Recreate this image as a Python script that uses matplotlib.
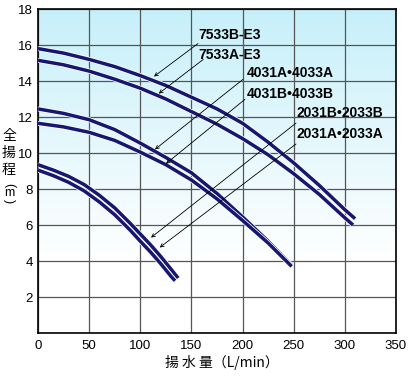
import numpy as np
import matplotlib.pyplot as plt
import matplotlib.patheffects as pe

# 揚水量 (L/min) と 全揚程 (m) の読み取り値
q_7533b = [0, 25, 50, 75, 100, 125, 150, 175, 200, 225, 250, 275, 300, 310]
h_7533b = [15.8, 15.55, 15.2, 14.8, 14.3, 13.75, 13.1, 12.45, 11.65, 10.6, 9.45, 8.2, 6.85, 6.35]
q_7533a = [0, 25, 50, 75, 100, 125, 150, 175, 200, 225, 250, 275, 300, 308]
h_7533a = [15.15, 14.9, 14.55, 14.1, 13.6, 13.0, 12.3, 11.6, 10.8, 9.9, 8.85, 7.7, 6.4, 6.0]

q_4031a = [0, 25, 50, 75, 100, 125, 150, 175, 200, 225, 248]
h_4031a = [12.45, 12.2, 11.85, 11.3, 10.55, 9.75, 8.9, 7.75, 6.45, 5.1, 3.75]
q_4031b = [0, 25, 50, 75, 100, 125, 150, 175, 200, 225, 248]
h_4031b = [11.65, 11.45, 11.15, 10.7, 10.05, 9.35, 8.5, 7.45, 6.25, 5.0, 3.7]

q_2031b = [0, 15, 30, 45, 60, 75, 90, 100, 110, 120, 130, 137]
h_2031b = [9.35, 9.05, 8.7, 8.25, 7.65, 6.95, 6.1, 5.5, 4.9, 4.25, 3.55, 3.05]
q_2031a = [0, 15, 30, 45, 60, 75, 90, 100, 110, 120, 130, 134]
h_2031a = [9.05, 8.74, 8.37, 7.9, 7.28, 6.57, 5.72, 5.1, 4.5, 3.85, 3.15, 2.9]

curves = [(q_7533b, h_7533b), (q_7533a, h_7533a),
          (q_4031a, h_4031a), (q_4031b, h_4031b),
          (q_2031b, h_2031b), (q_2031a, h_2031a)]

labels = ['7533B-E3', '7533A-E3', '4031A•4033A', '4031B•4033B',
          '2031B•2033B', '2031A•2033A']
# 引き出し線の先 (曲線上の点)
arrow_x = [113.4, 118, 114.4, 125, 110.5, 119]
arrow_y = [14.25, 13.3, 10.2, 9.4, 5.3, 4.75]

x_ticks = [0, 50, 100, 150, 200, 250, 300, 350]
y_ticks = [2, 4, 6, 8, 10, 12, 14, 16, 18]

# ラベル位置と引き出し線の始点
text_pos = [(156.4, 16.57), (156.4, 15.47), (204.3, 14.42), (204.3, 13.26),
            (253.2, 12.21), (253.2, 11.05)]
line_start = [(156.4, 16.08), (161.6, 15.2), (200.4, 14.09), (202.3, 12.98),
              (252.2, 11.66), (252.2, 10.5)]

navy = '#17176f'

fig = plt.figure(figsize=(4.1, 3.76), dpi=100)
ax = fig.add_axes([38 / 410, 1 - 333 / 376, 358 / 410, 324 / 376])
ax.set_xlim(0, 350)
ax.set_ylim(0, 18)

# 背景グラデーション
ys = np.linspace(0, 18, 200)
t = np.clip((ys - 4) / 14, 0, 1)
top = np.array([0.78, 0.94, 0.98])
grad = 1 - t[:, None] * (1 - top[None, :])
ax.imshow(grad[:, None, :], extent=[0, 350, 0, 18], origin='lower',
          aspect='auto', zorder=0)

ax.set_xticks(x_ticks)
ax.set_yticks(y_ticks)
ax.grid(True, color='#555555', lw=0.9, zorder=1)
ax.tick_params(length=0, labelsize=9.5)
ax.tick_params(axis='y', pad=3.5)
ax.tick_params(axis='x', pad=5)
for lab in ax.get_xticklabels() + ax.get_yticklabels():
    lab.set_family('Liberation Sans')
for s in ax.spines.values():
    s.set_color('black')
    s.set_linewidth(1.2)

for q, h in curves:
    ax.plot(q, h, color=navy, lw=2.5, solid_capstyle='butt', zorder=3,
            path_effects=[pe.Stroke(linewidth=3.6, foreground='white'), pe.Normal()])

for i, name in enumerate(labels):
    ax.text(text_pos[i][0], text_pos[i][1], name, fontsize=10, fontweight='bold',
            family='Liberation Sans', va='center', ha='left', zorder=5)
    ax.annotate('', xy=(arrow_x[i], arrow_y[i]), xytext=line_start[i],
                arrowprops=dict(arrowstyle='->', lw=0.6, color='black',
                                shrinkA=0, shrinkB=0, mutation_scale=6),
                zorder=4)

cjk = ['Noto Sans CJK JP', 'DejaVu Sans']
fig.text(9 / 410, 1 - 153 / 376, '全\n揚\n程', family=cjk, fontsize=10,
         ha='center', va='center', linespacing=1.3)
# 縦書きの (m)
fig.text(9 / 410, 1 - 185 / 376, '(', family='Liberation Sans', fontsize=9,
         ha='center', va='center', rotation=-90)
fig.text(9 / 410, 1 - 193 / 376, 'm', family='Liberation Sans', fontsize=9,
         ha='center', va='center')
fig.text(9 / 410, 1 - 201 / 376, ')', family='Liberation Sans', fontsize=9,
         ha='center', va='center', rotation=-90)
fig.text(222 / 410, 1 - 362 / 376, '揚 水 量（L/min）', family=cjk, fontsize=10,
         ha='center', va='center')

fig.savefig('out.png', dpi=100)
